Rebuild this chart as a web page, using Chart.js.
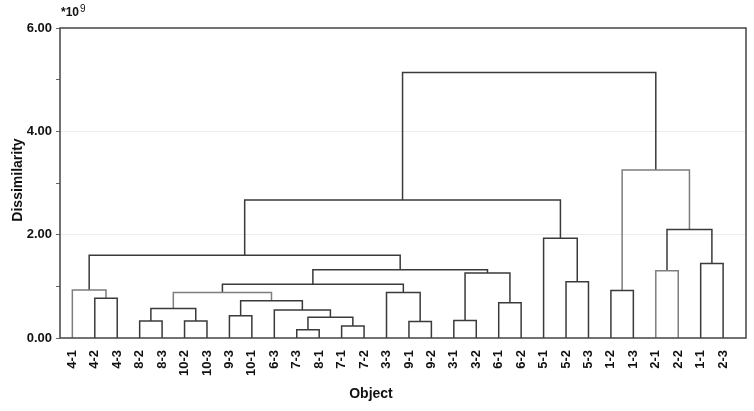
<!DOCTYPE html>
<html>
<head>
<meta charset="utf-8">
<script src="https://cdn.jsdelivr.net/npm/chart.js@4/dist/chart.umd.min.js"></script>
<style>
  html, body { margin: 0; padding: 0; background: #fff; }
  #wrap { width: 754px; height: 411px; position: relative; }
</style>
</head>
<body>
<div id="wrap"><canvas id="dendro"></canvas></div>
<script>
// leaves, left to right
const leafLabels = ['4-1', '4-2', '4-3', '8-2', '8-3', '10-2', '10-3', '9-3', '10-1', '6-3',
    '7-3', '8-1', '7-1', '7-2', '3-3', '9-1', '9-2', '3-1', '3-2', '6-1',
    '6-2', '5-1', '5-2', '5-3', '1-2', '1-3', '2-1', '2-2', '1-1', '2-3'];

// merges: ids 0..29 are leaves, each merge makes a new id starting at 30
const mergeLeft  = [10, 12, 3, 5, 15, 17, 30, 7, 9, 32, 19, 37, 1, 14, 39, 24, 0, 44, 22, 35, 26, 47, 28, 46, 21, 50, 53, 45, 56];
const mergeRight = [11, 13, 4, 6, 16, 18, 31, 8, 36, 33, 20, 38, 2, 34, 41, 25, 42, 43, 23, 40, 27, 49, 29, 51, 48, 52, 54, 55, 57];
const mergeHeight = [0.16, 0.23, 0.33, 0.33, 0.32, 0.34, 0.40, 0.43, 0.54, 0.57, 0.68, 0.72, 0.77, 0.88, 0.88,
    0.92, 0.93, 1.04, 1.09, 1.26, 1.30, 1.32, 1.44, 1.60, 1.93, 2.10, 2.67, 3.25, 5.14];

const yTicks = [0, 1, 2, 3, 4, 5, 6];

// links drawn in a paler grey (index into the merge arrays)
const paleLinks = [14, 16, 20, 27];

const FONT = 'Liberation Sans, Arial, sans-serif';

// work out x position / height of every node
const nodeX = leafLabels.map((_, i) => i);
const nodeH = leafLabels.map(() => 0);
const datasets = [];
mergeLeft.forEach((a, k) => {
    const b = mergeRight[k];
    const h = mergeHeight[k];
    nodeX.push((nodeX[a] + nodeX[b]) / 2);
    nodeH.push(h);
    const pale = paleLinks.includes(k);
    datasets.push({
        data: [
            {x: nodeX[a], y: nodeH[a]},
            {x: nodeX[a], y: h},
            {x: nodeX[b], y: h},
            {x: nodeX[b], y: nodeH[b]}
        ],
        showLine: true,
        borderColor: pale ? '#7e7e7e' : '#3a3a3a',
        borderWidth: 1.5,
        pointRadius: 0,
        tension: 0,
        fill: false
    });
});

const frame = {
    id: 'frame',
    afterDraw(chart) {
        const {ctx, chartArea: a} = chart;
        ctx.save();
        ctx.strokeStyle = '#444';
        ctx.lineWidth = 1.5;
        ctx.strokeRect(a.left, a.top, a.right - a.left, a.bottom - a.top);

        ctx.fillStyle = '#111';
        ctx.font = 'bold 14px ' + FONT;
        ctx.textAlign = 'center';
        ctx.textBaseline = 'middle';
        ctx.fillText('Object', 371, 394);

        ctx.save();
        ctx.translate(18, 180);
        ctx.rotate(-Math.PI / 2);
        ctx.fillText('Dissimilarity', 0, 0);
        ctx.restore();

        ctx.textAlign = 'left';
        ctx.font = 'bold 12px ' + FONT;
        ctx.fillText('*10', 61, 13);
        const w = ctx.measureText('*10').width;
        ctx.font = '10px ' + FONT;
        ctx.fillText('9', 61 + w + 1, 9);
        ctx.restore();
    }
};

new Chart(document.getElementById('dendro'), {
    type: 'scatter',
    data: { datasets: datasets },
    options: {
        responsive: true,
        maintainAspectRatio: false,
        animation: false,
        layout: { padding: { top: 28, right: 8, bottom: 0, left: 0 } },
        plugins: {
            legend: { display: false },
            tooltip: { enabled: false }
        },
        scales: {
            x: {
                type: 'linear',
                min: -0.55,
                max: 30.02,
                afterBuildTicks: (scale) => {
                    scale.ticks = leafLabels.map((_, i) => ({value: i}));
                },
                afterFit: (scale) => { scale.height = 73; },
                grid: { display: false },
                border: { display: false },
                ticks: {
                    autoSkip: false,
                    minRotation: 90,
                    maxRotation: 90,
                    padding: 4,
                    color: '#111',
                    font: { family: FONT, size: 13, weight: 'bold' },
                    callback: (v) => leafLabels[v] ?? ''
                }
            },
            y: {
                min: 0,
                max: 6,
                afterBuildTicks: (scale) => {
                    scale.ticks = yTicks.map(v => ({value: v}));
                },
                afterFit: (scale) => { scale.width = 60; },
                border: { display: false },
                grid: {
                    color: (c) => (c.tick && (c.tick.value === 2 || c.tick.value === 4)) ? '#ececec' : 'rgba(0,0,0,0)',
                    tickColor: '#666',
                    tickLength: 4
                },
                ticks: {
                    padding: 4,
                    color: '#111',
                    font: { family: FONT, size: 13, weight: 'bold' },
                    callback: (v) => v % 2 === 0 ? v.toFixed(2) : ''
                }
            }
        }
    },
    plugins: [frame]
});
</script>
</body>
</html>
